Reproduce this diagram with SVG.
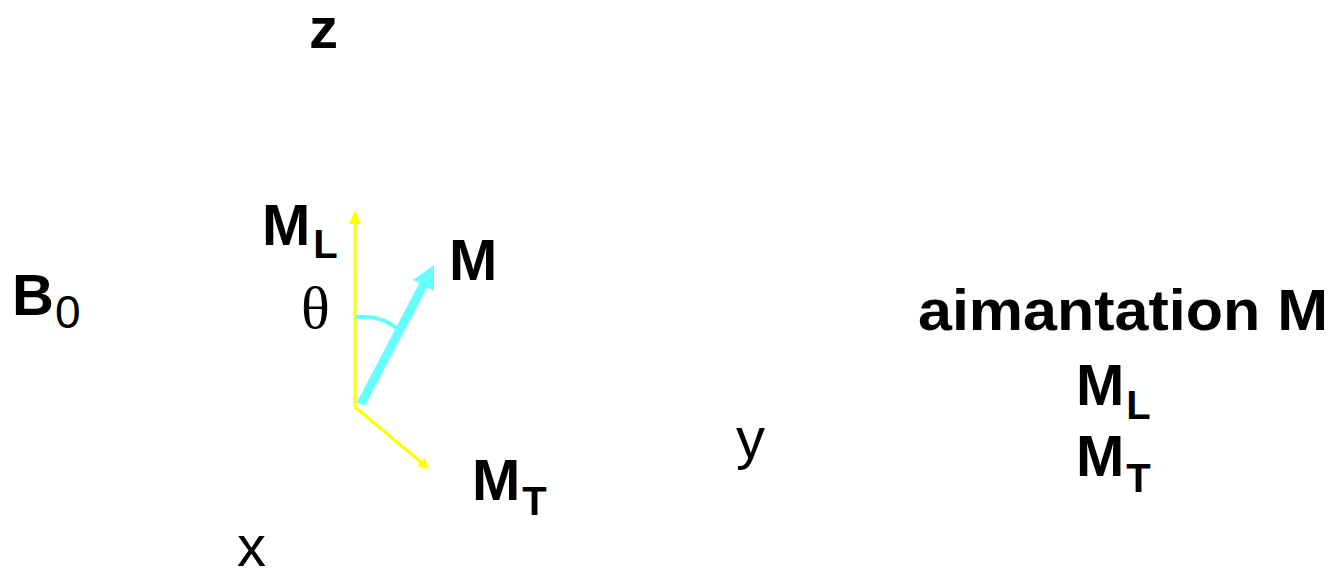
<svg xmlns="http://www.w3.org/2000/svg" width="1337" height="570" viewBox="0 0 1337 570">
<style>
.b{font-family:"Liberation Sans",Arial,sans-serif;font-weight:bold;font-size:58px;fill:#000}
.r{font-family:"Liberation Sans",Arial,sans-serif;font-size:58px;fill:#000}
.sb{font-size:40px}
.th{font-family:"Liberation Serif","Times New Roman",serif;font-size:60px;fill:#000}
</style>
<rect width="1337" height="570" fill="#fff"/>
<g id="axes-labels">
<text class="b" x="309" y="48">z</text>
<text class="r" x="237" y="566">x</text>
<text class="r" x="736" y="458">y</text>
</g>
<g id="B0"><text class="b" x="12" y="315">B<tspan font-weight="normal" font-size="46" dx="1" dy="13">0</tspan></text></g>
<g id="connectors">
<line x1="355" y1="407" x2="355" y2="222" stroke="#ffff00" stroke-width="3"/>
<polygon points="355,210 349,224 361,224" fill="#ffff00"/>
<line x1="355" y1="407" x2="422" y2="463" stroke="#ffff00" stroke-width="3"/>
<polygon points="429,469 417.5,466.3 424.7,458.1" fill="#ffff00"/>
<line x1="361" y1="404" x2="425" y2="282" stroke="#66ffff" stroke-width="9"/>
<polygon points="434,265 434,291 413,280" fill="#66ffff"/>
<path d="M356,317 Q382,315 397,329" fill="none" stroke="#66ffff" stroke-width="4"/>
</g>
<g id="ML-left"><text class="b" x="262" y="245">M<tspan class="sb" dx="3" dy="13">L</tspan></text></g>
<g id="theta"><text class="th" x="301" y="328">θ</text></g>
<g id="M"><text class="b" x="449" y="280">M</text></g>
<g id="MT-bottom"><text class="b" x="472" y="500">M<tspan class="sb" dx="2" dy="15">T</tspan></text></g>
<g id="legend">
<text class="b" x="918" y="330" textLength="410" lengthAdjust="spacingAndGlyphs">aimantation M</text>
<text class="b" x="1076" y="405">M<tspan class="sb" dx="2" dy="14">L</tspan></text>
<text class="b" x="1076" y="476">M<tspan class="sb" dx="2" dy="16">T</tspan></text>
</g>
</svg>
